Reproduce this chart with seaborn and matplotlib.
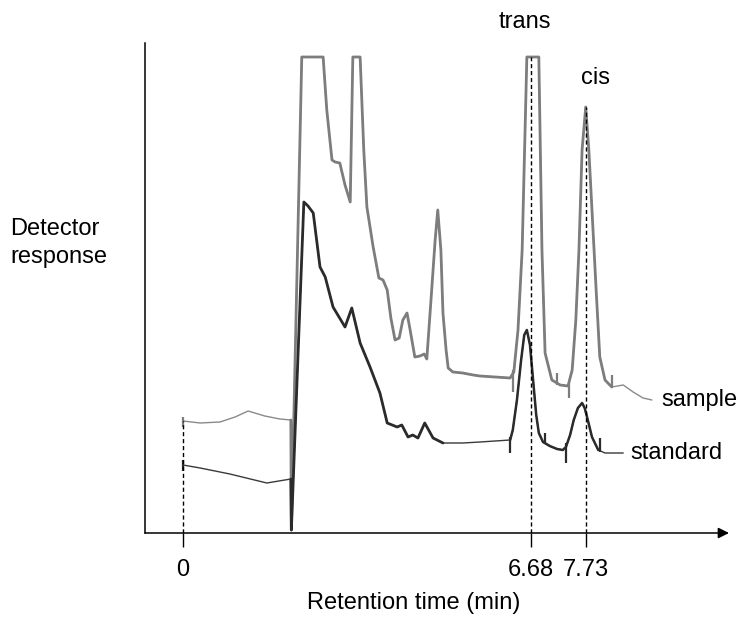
import numpy as np
import pandas as pd
import matplotlib.pyplot as plt
import seaborn as sns

# ------------------------
# chromatogram traces (retention time in min, detector response in a.u.)
# ------------------------
sample_t = [0.00, 0.33, 0.71, 1.00, 1.25, 1.57, 1.86, 2.07, 2.08, 2.28, 2.69, 2.76, 2.86, 2.92,
            3.01, 3.11, 3.21, 3.26, 3.40, 3.47, 3.53, 3.65, 3.76, 3.84, 3.92, 3.99, 4.07, 4.15,
            4.22, 4.30, 4.36, 4.45, 4.55, 4.63, 4.68, 4.76, 4.84, 4.89, 4.95, 4.99, 5.05, 5.09,
            5.18, 5.37, 5.57, 5.70, 5.99, 6.28, 6.35, 6.43, 6.51, 6.60, 6.83, 6.89, 6.95, 7.08,
            7.24, 7.39, 7.47, 7.54, 7.60, 7.66, 7.73, 7.79, 7.86, 7.93, 8.00, 8.10, 8.23, 8.45,
            8.64, 8.83, 9.00]
sample_v = [11.2, 11.0, 11.1, 11.6, 12.2, 11.7, 11.4, 11.3, 0.3, 47.6, 47.6, 42.3, 37.3, 37.1,
            37.0, 34.8, 33.1, 47.6, 47.6, 38.3, 32.6, 28.6, 25.5, 25.3, 24.3, 21.5, 19.3, 19.5,
            21.3, 22.0, 20.3, 17.6, 17.7, 17.9, 17.4, 23.3, 29.3, 32.3, 28.3, 22.0, 18.3, 16.5,
            16.1, 16.0, 15.8, 15.7, 15.6, 15.5, 16.1, 20.3, 28.3, 47.6, 47.6, 28.3, 18.0, 15.3,
            14.8, 14.7, 16.3, 21.3, 28.3, 38.3, 42.6, 38.3, 31.3, 24.3, 17.6, 15.3, 14.6, 14.8,
            14.1, 13.5, 13.3]

standard_t = [0.00, 0.33, 0.90, 1.61, 2.07, 2.08, 2.32, 2.40, 2.50, 2.63, 2.73, 2.88, 3.11, 3.24,
              3.40, 3.59, 3.78, 3.92, 4.11, 4.20, 4.32, 4.41, 4.51, 4.64, 4.80, 4.99, 5.37, 5.70,
              5.99, 6.28, 6.33, 6.41, 6.49, 6.55, 6.60, 6.66, 6.72, 6.78, 6.83, 6.91, 7.04, 7.18,
              7.29, 7.35, 7.43, 7.50, 7.58, 7.66, 7.71, 7.77, 7.85, 7.97, 8.10, 8.25, 8.45]
standard_v = [6.8, 6.5, 5.9, 5.0, 5.4, 0.3, 33.1, 32.7, 32.0, 26.6, 25.6, 22.6, 20.6, 22.5,
              19.0, 16.6, 14.0, 11.0, 10.6, 10.8, 9.6, 9.8, 9.5, 11.0, 9.5, 9.0, 9.0, 9.1,
              9.2, 9.3, 10.3, 13.3, 17.3, 19.8, 20.3, 18.8, 15.3, 11.8, 10.0, 9.1, 8.7, 8.4,
              8.3, 8.6, 9.8, 11.3, 12.5, 13.0, 12.5, 11.3, 9.6, 8.3, 8.0, 8.0, 8.0]

# integration marks on the traces
sample_mark_t = [0.00, 6.33, 7.18, 7.41, 8.23]
sample_mark_lo = [10.6, 14.1, 14.8, 13.5, 14.6]
sample_mark_hi = [11.6, 16.3, 16.0, 15.0, 15.8]
standard_mark_t = [0.00, 6.28, 6.95, 7.35, 8.00]
standard_mark_lo = [6.2, 8.0, 9.0, 7.0, 8.1]
standard_mark_hi = [7.3, 9.6, 10.0, 9.0, 9.5]

tick_times = [0, 6.68, 7.73]
tick_labels = ["0", "6.68", "7.73"]
guide_tops = [11.2, 47.6, 42.6]
peak_names = ["trans", "cis"]

# ------------------------
# plotting
# ------------------------
sns.set_style("white")
plt.rcParams["font.family"] = ["Liberation Sans", "DejaVu Sans"]
plt.rcParams["text.color"] = "black"
plt.rcParams["axes.labelcolor"] = "black"
plt.rcParams["xtick.color"] = "black"

sample = pd.DataFrame({"t": sample_t, "v": sample_v})
standard = pd.DataFrame({"t": standard_t, "v": standard_v})

fig = plt.figure(figsize=(7.38, 6.21), dpi=100)
ax = fig.add_axes([145 / 738, 88 / 621, 584 / 738, 490 / 621])

# thin full traces, then thicker pen over the busy part
sns.lineplot(data=sample, x="t", y="v", sort=False, color="#8a8a8a", lw=1.0, ax=ax)
sns.lineplot(data=standard, x="t", y="v", sort=False, color="#3a3a3a", lw=1.0, ax=ax)
sns.lineplot(data=sample[(sample.t >= 2.07) & (sample.t <= 8.23)], x="t", y="v",
             sort=False, color="#7d7d7d", lw=2.0, ax=ax)
sns.lineplot(data=standard[(standard.t >= 2.07) & (standard.t <= 5.0)], x="t", y="v",
             sort=False, color="#2b2b2b", lw=2.0, ax=ax)
sns.lineplot(data=standard[(standard.t >= 6.28) & (standard.t <= 8.0)], x="t", y="v",
             sort=False, color="#2b2b2b", lw=1.8, ax=ax)

ax.vlines(sample_mark_t, sample_mark_lo, sample_mark_hi, color="#7d7d7d", lw=1.6)
ax.vlines(standard_mark_t, standard_mark_lo, standard_mark_hi, color="#2b2b2b", lw=1.6)

# dashed guides at retention times
ax.vlines(tick_times, 0, guide_tops, color="black", lw=1.0, linestyles=(0, (3, 2)))

ax.text(6.56, 51.1, peak_names[0], fontsize=17, ha="center", va="center", clip_on=False)
ax.text(7.91, 45.5, peak_names[1], fontsize=17, ha="center", va="center", clip_on=False)
ax.text(9.19, 13.3, "sample", fontsize=17, ha="left", va="center", clip_on=False)
ax.text(8.58, 8.0, "standard", fontsize=17, ha="left", va="center", clip_on=False)

ax.set_xlim(-0.729, 10.48)
ax.set_ylim(0, 49.0)
ax.set_xticks(tick_times)
ax.set_xticklabels(tick_labels)
ax.set_yticks([])
ax.tick_params(axis="x", direction="out", length=10, width=1.0, pad=9, labelsize=17,
               bottom=True, color="black")

for side in ["top", "right", "bottom"]:
    ax.spines[side].set_visible(False)
ax.spines["left"].set_color("black")
ax.spines["left"].set_linewidth(1.1)

ax.annotate("", xy=(1.0, 0), xytext=(0, 0), xycoords="axes fraction",
            arrowprops=dict(arrowstyle="-|>", color="black", lw=1.1,
                            mutation_scale=16, shrinkA=0, shrinkB=0))

ax.set_xlabel("Retention time (min)", fontsize=17, va="center")
ax.xaxis.set_label_coords(0.46, -0.143)
ax.set_ylabel("Detector\nresponse", rotation=0, fontsize=17, ha="left", va="center",
              linespacing=1.35)
ax.yaxis.set_label_coords(-0.231, 0.592)

fig.savefig("out.png", dpi=100)
